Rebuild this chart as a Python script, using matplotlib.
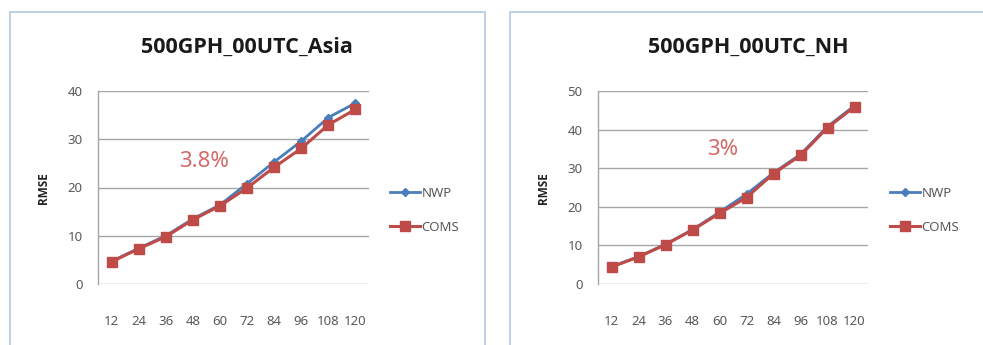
import matplotlib
matplotlib.use("Agg")
import matplotlib.pyplot as plt
from matplotlib.patches import Rectangle

plt.rcParams['font.family'] = ['Noto Sans', 'DejaVu Sans']

hours = [12, 24, 36, 48, 60, 72, 84, 96, 108, 120]
hour_labels = [str(h) for h in hours]

asia_nwp = [4.7, 7.4, 10.0, 13.5, 16.4, 20.8, 25.3, 29.6, 34.5, 37.5]
asia_coms = [4.6, 7.3, 9.8, 13.3, 16.2, 19.9, 24.2, 28.1, 33.0, 36.2]
nh_nwp = [4.5, 7.1, 10.3, 14.1, 18.6, 23.3, 28.8, 33.6, 40.8, 46.2]
nh_coms = [4.4, 7.0, 10.2, 14.0, 18.3, 22.4, 28.6, 33.3, 40.5, 45.9]

titles = ["500GPH_00UTC_Asia", "500GPH_00UTC_NH"]
notes = ["3.8%", "3%"]
ymaxes = [40, 50]

W, H = 983, 345
fig = plt.figure(figsize=(W / 100, H / 100), dpi=100)
fig.patch.set_facecolor('white')

def fx(px):
    return px / W

def fy(py):
    return 1 - py / H

panels = [
    dict(frame=(10, 485), ax=(98, 369), nwp=asia_nwp, coms=asia_coms,
         title_x=247, rmse_x=43, note_xy=(204, 162), leg_x=390),
    dict(frame=(510, 995), ax=(598, 868), nwp=nh_nwp, coms=nh_coms,
         title_x=748, rmse_x=543, note_xy=(723, 150), leg_x=890),
]

blue = '#4a7ebb'
red = '#be4b48'
grid_c = '#a6a6a6'
text_c = '#595959'

for i, p in enumerate(panels):
    # outer chart frame
    fl, fr = p['frame']
    fig.patches.append(Rectangle((fx(fl), fy(360)), fx(fr - fl), (360 - 12) / H,
                                 transform=fig.transFigure, fill=False,
                                 edgecolor='#b9cde5', linewidth=1.3))
    al, ar = p['ax']
    ax = fig.add_axes([fx(al), fy(284), fx(ar - al), (284 - 91) / H])
    xs = list(range(len(hours)))
    ax.plot(xs, p['nwp'], color=blue, linewidth=2, marker='D', markersize=4.5,
            label='NWP', zorder=3)
    ax.plot(xs, p['coms'], color=red, linewidth=2.2, marker='s', markersize=7,
            label='COMS', zorder=4)
    ax.set_xlim(-0.5, len(hours) - 0.5)
    ax.set_ylim(0, ymaxes[i])
    ax.set_yticks(range(0, ymaxes[i] + 1, 10))
    ax.set_xticks(xs)
    ax.set_xticklabels(hour_labels)
    ax.grid(axis='y', color=grid_c, linewidth=1)
    ax.set_axisbelow(True)
    for s in ['top', 'right', 'bottom']:
        ax.spines[s].set_visible(False)
    ax.spines['left'].set_color(grid_c)
    ax.spines['left'].set_linewidth(1)
    ax.tick_params(axis='both', length=0, labelsize=9.5, labelcolor=text_c)
    ax.tick_params(axis='x', pad=22)
    ax.tick_params(axis='y', pad=11)

    fig.text(fx(p['title_x']), fy(47), titles[i], ha='center', va='center',
             fontsize=15.5, fontweight='bold', color='#1a1a1a',
             family=['Open Sans', 'DejaVu Sans'])
    fig.text(fx(p['rmse_x']), fy(188), 'RMSE', ha='center', va='center',
             rotation=90, fontsize=8.5, fontweight='bold', color='#222222',
             family=['Open Sans', 'DejaVu Sans'])
    nx, ny = p['note_xy']
    fig.text(fx(nx), fy(ny), notes[i], ha='center', va='center',
             fontsize=16, color='#d46a68')
    leg = ax.legend(loc='center left', bbox_to_anchor=(fx(p['leg_x']), fy(210.5)),
                    bbox_transform=fig.transFigure, frameon=False,
                    fontsize=9.5, handlelength=2.3, handletextpad=0.1,
                    labelspacing=1.6, borderpad=0, borderaxespad=0)
    for t in leg.get_texts():
        t.set_color(text_c)

fig.savefig('out.png', dpi=100, facecolor='white')
